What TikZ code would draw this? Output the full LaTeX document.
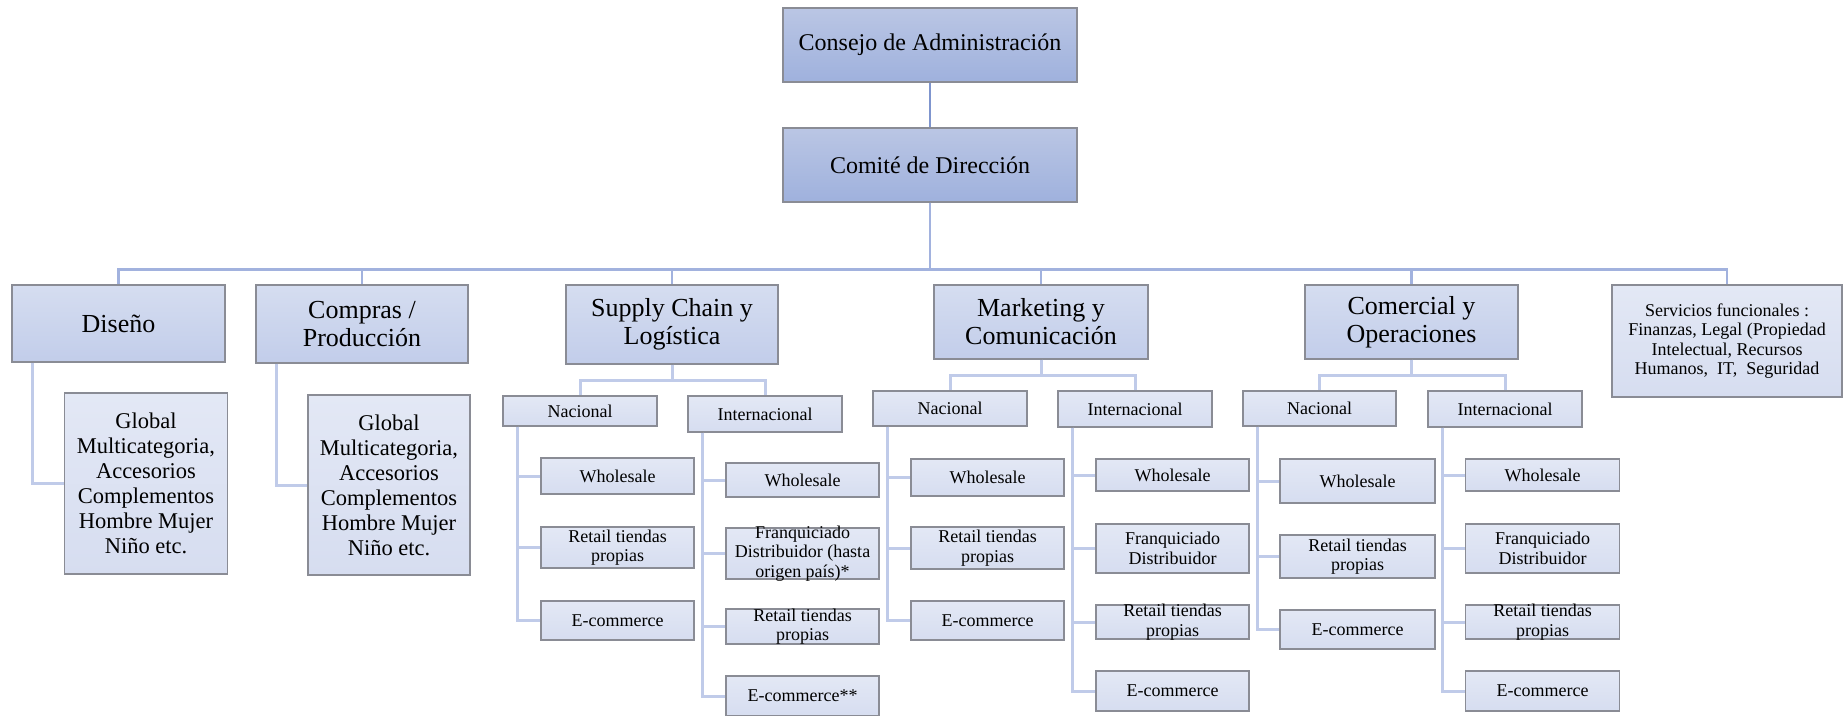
\documentclass[tikz,border=0pt]{standalone}
\usepackage{fontspec}
\setmainfont{Liberation Serif}
\usepackage{tikz}
\usetikzlibrary{positioning}

\definecolor{boxline}{HTML}{8A8C95}
\definecolor{bosstop}{HTML}{BAC6E4}
\definecolor{bossbot}{HTML}{9FB1DD}
\definecolor{areatop}{HTML}{D5DDF0}
\definecolor{areabot}{HTML}{C2CDEA}
\definecolor{leaftop}{HTML}{E3E8F5}
\definecolor{leafbot}{HTML}{D6DDF0}
\definecolor{toplink}{HTML}{7F95CE}
\definecolor{barlink}{HTML}{A2B2DE}
\definecolor{sublink}{HTML}{C0CBE9}

\tikzstyle{box} = [draw=boxline, line width=1.3pt, rectangle, inner xsep=0pt, inner ysep=-14pt, align=center]
\tikzstyle{board} = [box, top color=bosstop, bottom color=bossbot, font=\fontsize{24}{26}\selectfont]
\tikzstyle{area} = [box, top color=areatop, bottom color=areabot, font=\fontsize{26}{28}\selectfont]
\tikzstyle{detail} = [box, top color=leaftop, bottom color=leafbot, font=\fontsize{22.5}{25}\selectfont]
\tikzstyle{leaf} = [box, top color=leaftop, bottom color=leafbot, font=\fontsize{18}{19.5}\selectfont]
\tikzstyle{link} = [draw=sublink, line width=3pt]

\begin{document}
\begin{tikzpicture}[x=1pt, y=-1pt]
        \useasboundingbox (0,0) rectangle (1843,715);

        % direccion
        \node [board, minimum width=294pt, minimum height=74pt] (consejo) at (930,45) {Consejo de Administración};
        \node [board, minimum width=294pt, minimum height=74pt] (comite) at (930,165) {Comité de Dirección};

        % areas
        \node [area, minimum width=213pt, minimum height=77pt] (diseno) at (118.5,323.5) {Diseño};
        \node [area, minimum width=212pt, minimum height=78pt] (compras) at (362,324) {Compras /\\Producción};
        \node [area, minimum width=212pt, minimum height=79pt] (supply) at (672,324.5) {Supply Chain y\\Logística};
        \node [area, minimum width=214pt, minimum height=74pt] (mkt) at (1041,322) {Marketing y\\Comunicación};
        \node [area, minimum width=213pt, minimum height=74pt] (com) at (1411.5,322) {Comercial y\\Operaciones};
        \node [leaf, minimum width=230pt, minimum height=112pt] (serv) at (1727,341)
            {Servicios funcionales :\\Finanzas, Legal (Propiedad\\Intelectual, Recursos\\Humanos,\ \ IT,\ \ Seguridad};

        \node [detail, minimum width=163pt, minimum height=181pt] (gdis) at (146,483.5)
            {Global\\Multicategoria,\\Accesorios\\Complementos\\Hombre Mujer\\Niño etc.};
        \node [detail, minimum width=162pt, minimum height=180pt] (gcom) at (389,485)
            {Global\\Multicategoria,\\Accesorios\\Complementos\\Hombre Mujer\\Niño etc.};

        % supply chain
        \node [leaf, minimum width=154pt, minimum height=30pt] (snac) at (580,411) {Nacional};
        \node [leaf, minimum width=154pt, minimum height=36pt] (sint) at (765,414) {Internacional};
        \node [leaf, minimum width=153pt, minimum height=36pt] (snw) at (617.5,476) {Wholesale};
        \node [leaf, minimum width=153pt, minimum height=41pt] (snr) at (617.5,547.5) {Retail tiendas\\propias};
        \node [leaf, minimum width=153pt, minimum height=39pt] (sne) at (617.5,620.5) {E-commerce};
        \node [leaf, minimum width=153pt, minimum height=34pt] (siw) at (802.5,480) {Wholesale};
        \node [leaf, minimum width=153pt, minimum height=51pt] (sif) at (802.5,553.5) {Franquiciado\\Distribuidor (hasta\\origen país)*};
        \node [leaf, minimum width=153pt, minimum height=35pt] (sir) at (802.5,626.5) {Retail tiendas\\propias};
        \node [leaf, minimum width=153pt, minimum height=40pt] (sie) at (802.5,696) {E-commerce**};

        % marketing
        \node [leaf, minimum width=154pt, minimum height=35pt] (mnac) at (950,408.5) {Nacional};
        \node [leaf, minimum width=154pt, minimum height=36pt] (mint) at (1135,409) {Internacional};
        \node [leaf, minimum width=153pt, minimum height=37pt] (mnw) at (987.5,477.5) {Wholesale};
        \node [leaf, minimum width=153pt, minimum height=42pt] (mnr) at (987.5,548) {Retail tiendas\\propias};
        \node [leaf, minimum width=153pt, minimum height=39pt] (mne) at (987.5,620.5) {E-commerce};
        \node [leaf, minimum width=153pt, minimum height=32pt] (miw) at (1172.5,475) {Wholesale};
        \node [leaf, minimum width=153pt, minimum height=49pt] (mif) at (1172.5,548.5) {Franquiciado\\Distribuidor};
        \node [leaf, minimum width=153pt, minimum height=34pt] (mir) at (1172.5,622) {Retail tiendas\\propias};
        \node [leaf, minimum width=153pt, minimum height=40pt] (mie) at (1172.5,691) {E-commerce};

        % comercial
        \node [leaf, minimum width=153pt, minimum height=35pt] (cnac) at (1319.5,408.5) {Nacional};
        \node [leaf, minimum width=154pt, minimum height=36pt] (cint) at (1505,409) {Internacional};
        \node [leaf, minimum width=155pt, minimum height=44pt] (cnw) at (1357.5,481) {Wholesale};
        \node [leaf, minimum width=155pt, minimum height=43pt] (cnr) at (1357.5,556.5) {Retail tiendas\\propias};
        \node [leaf, minimum width=155pt, minimum height=39pt] (cne) at (1357.5,629.5) {E-commerce};
        \node [leaf, minimum width=154pt, minimum height=32pt] (ciw) at (1542.5,475) {Wholesale};
        \node [leaf, minimum width=154pt, minimum height=49pt] (cif) at (1542.5,548.5) {Franquiciado\\Distribuidor};
        \node [leaf, minimum width=154pt, minimum height=34pt] (cir) at (1542.5,622) {Retail tiendas\\propias};
        \node [leaf, minimum width=154pt, minimum height=40pt] (cie) at (1542.5,691) {E-commerce};

        % connectors
        \draw [draw=toplink, line width=2pt] (consejo) -- (comite);
        \foreach \a in {diseno,compras,supply,mkt,com,serv}
            \draw [draw=barlink, line width=2.5pt] (comite.south) -- ++(0,67) -| (\a.north);
        \draw [link] ([xshift=21pt]diseno.south west) |- (gdis.west);
        \draw [link] ([xshift=21pt]compras.south west) |- (gcom.west);
        \foreach \a/\n/\i in {supply/snac/sint, mkt/mnac/mint, com/cnac/cint} {
            \draw [link] (\a.south) -- ++(0,16) -| (\n.north);
            \draw [link] (\a.south) -- ++(0,16) -| (\i.north);
        }
        \foreach \p/\c in {snac/snw, snac/snr, snac/sne, sint/siw, sint/sif, sint/sir, sint/sie,
                           mnac/mnw, mnac/mnr, mnac/mne, mint/miw, mint/mif, mint/mir, mint/mie,
                           cnac/cnw, cnac/cnr, cnac/cne, cint/ciw, cint/cif, cint/cir, cint/cie}
            \draw [link] ([xshift=15pt]\p.south west) |- (\c.west);
    \end{tikzpicture}
\end{document}
